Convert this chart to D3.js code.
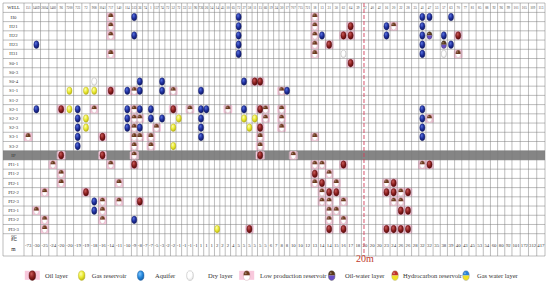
<!DOCTYPE html>
<html><head><meta charset="utf-8">
<script src="https://cdn.jsdelivr.net/npm/d3@7"></script>
<style>body{margin:0;background:#fff}svg{display:block}</style>
</head><body><svg id="c" width="550" height="288"></svg>
<script>
// ---------------- DATA ----------------
const rowLabels = ["H0","H21","H22","H23","H31","S0-1","S0-3","S0-4","S1-1","S1-2","S2-1","S2-2","S2-3","S3-1","S3-2","IP","PI1-1","PI1-2","PI2-1","PI2-2","PI2-3","PI3-1","PI3-2","PI3-3"];
const grayRow = "IP";
const distances = ["-73","-30","-25","-24","-20","-20","-19","-19","-18","-16","-14","-11","-10",
 "-9","-8","-7","-7","-5","-3","-2","-2","-1","-1","-1","-1","1","1","1","2","2","2","4",
 "5","5","5","5","5","5","6","7","8","8",
 "10","10","12","13","14","14","15","16","17","18","20","20","20","23","24","26","26","28","32","32","35","38","39",
 "40","43","45","53","54","60","80","92",
 "101","172","312","417"];
const wells = ["151","146D","2604","1460","96","7200","723","72","908","1041","717","140","114",
 "513","36","74","1","157","74","72","52","72","33","51","96","726","26","54","14","45","10","65",
 "72","27","58","11","15","66","19","24","30","17",
 "707","715","721","18","13","31","50","62","64","39","12","40","42","16","20","22","28","35","41","47","53","57","63",
 "70","77","81","85","88","92","96","99",
 "101","105","109","113"];
const headerCorner = "WELL";
const footerCorner = ["距","m"];
const lineColumn = 52;          // column where the 20 m line is drawn
const lineLabel = "20m";

// markers: [row label, column index]
const oilLayer = [["S1-1",10],["S2-1",4],["S3-1",9],["IP",4],["IP",9],["PI1-1",13],["PI2-2",7],["PI2-3",14],
 ["H23",47],["H22",49],["H22",50],["H21",50],["S0-1",50],["S0-4",35],["S0-4",36],["H22",65],
 ["PI3-3",34],["PI3-3",47],["PI3-3",49],["PI3-3",55],["PI3-3",56],["PI3-3",57],["PI3-3",58],
 ["S2-1",20],["S2-1",36],["S2-3",36],["IP",36],["PI1-1",49],["PI1-1",61],["PI1-2",45],["PI2-1",46],["PI2-1",56],
 ["PI2-2",47],["PI2-2",48],["PI2-2",55],["PI2-2",56],["PI2-2",58],["PI3-1",57],["PI3-1",58]];
const gasReservoir = [["S1-1",5],["S1-1",7],["S1-1",8],["S2-1",5],["S2-2",7],["S2-3",7],["PI3-3",28],
 ["S2-2",21],["S2-2",33],["S2-2",35],["S2-3",20],["S2-3",34],["S3-2",20]];
const aquifer = [["H23",1],["H0",13],["H22",13],["H0",32],["H21",32],["H22",32],["H23",32],["H31",32],
 ["S0-4",14],["S0-4",18],["S0-4",33],["S1-1",12],["S2-1",1],["S2-1",6],["S2-1",12],["S2-2",6],["S2-2",12],
 ["S2-3",6],["S2-3",12],["S3-1",6],["S3-2",6],["PI2-3",8],["PI3-1",8],["PI3-2",13],
 ["H22",46],["H21",55],["H22",55],["H0",60],["H0",61],["H0",64],["H21",60],["H22",60],["H22",63],
 ["H23",60],["H23",64],["H31",60],
 ["S1-1",14],["S1-1",18],["S1-1",25],["S1-1",41],["S2-1",14],["S2-1",16],["S2-1",25],["S2-1",26],["S2-1",33],["S2-1",60],
 ["S2-2",16],["S2-2",18],["S2-2",25],["S2-2",60],["S2-3",14],["S2-3",25],["S2-3",60],["S3-1",25],["S3-1",60]];
const dryLayer = [["S0-4",8],["H31",49],["H31",63]];
const lowProduction = [["H0",10],["H21",10],["H22",10],["H31",10],
 ["H0",45],["H21",45],["H22",45],["H23",45],["H31",45],
 ["S1-1",13],["S2-1",13],["S2-2",13],["S2-3",13],["S3-1",13],["S3-2",13],["IP",13],
 ["S2-1",8],["S3-1",0],["PI1-1",3],["PI1-1",10],["PI1-2",4],["PI2-1",4],["PI2-1",11],["PI2-2",2],
 ["PI2-3",9],["PI2-3",11],["PI3-1",1],["PI3-1",9],["PI3-2",2],["PI3-2",9],["PI3-3",2],
 ["H21",56],["H31",65],
 ["S1-1",20],["S1-1",40],["S2-1",23],["S2-1",30],["S2-1",37],["S2-1",40],["S2-2",14],["S2-2",37],["S2-2",40],["S2-2",61],
 ["S2-3",17],["S2-3",40],["S3-1",14],["S3-1",16],["S3-1",36],["S3-1",45],["S3-2",16],["S3-2",36],["IP",42],
 ["PI1-1",45],["PI1-1",46],["PI1-1",60],["PI1-2",47],["PI2-1",45],["PI2-1",48],["PI2-1",55],["PI2-2",46],["PI2-2",57],
 ["PI2-3",46],["PI2-3",47],["PI2-3",49],["PI2-3",56],["PI2-3",57],["PI3-1",47],["PI3-1",48],["PI3-2",47],["PI3-2",49]];
const oilWater = [["H22",61],["H23",63]];
const hydrocarbon = [];
const gasWater = [];

const legendItems = [
 {type:"oil", label:"Oil layer"},
 {type:"gas", label:"Gas reservoir"},
 {type:"aquiferL", label:"Aquifer"},
 {type:"dry", label:"Dry layer"},
 {type:"low", label:"Low production reservoir"},
 {type:"oilWater", label:"Oil-water layer"},
 {type:"hydro", label:"Hydrocarbon reservoir"},
 {type:"gasWater", label:"Gas water layer"}];

// ---------------- LAYOUT ----------------
const svg = d3.select("#c");
const defs = svg.append("defs");
const tableLeft = 3, tableRight = 545, labelRight = 24;
const tableTop = 3, headerBottom = 12.4, dataBottom = 233.7, tableBottom = 256;

function colWeight(s){ if (s.length >= 3) return 8.3; if (s[0] === "-") return 5.6; if (s.length === 2) return 7.2; return 5.4; }
const cum = [0]; distances.forEach(d => cum.push(cum[cum.length-1] + colWeight(d)));
const x = d3.scaleLinear().domain([0, cum[cum.length-1]]).range([labelRight, tableRight]);
const colCenter = i => (x(cum[i]) + x(cum[i+1])) / 2;
const y = d3.scaleBand().domain(rowLabels).range([headerBottom, dataBottom]).padding(0);
const rowCenter = r => y(r) + y.bandwidth()/2;

function grad(id, c0, c1, c2){
  const g = defs.append("radialGradient").attr("id", id).attr("cx","38%").attr("cy","32%").attr("r","70%");
  g.append("stop").attr("offset","0%").attr("stop-color", c0);
  g.append("stop").attr("offset","55%").attr("stop-color", c1);
  g.append("stop").attr("offset","100%").attr("stop-color", c2);
}
grad("gOil", "#c85a5a", "#8c1f1f", "#5a0c0c");
grad("gGas", "#ffffb0", "#eaea30", "#b9b316");
grad("gAq", "#5872e0", "#1f2f9c", "#101a62");
grad("gAqL", "#7fc4ff", "#2488dc", "#155ea8");
grad("gDry", "#ffffff", "#ffffff", "#e6e6e6");

const pink = "#f8c8dc";
const split = {
  low: ["#6b3a1c", "#ffffff", "#c8a0a8"],
  oilWater: ["#5a3a1a", "#6a4fc8", "#444"],
  hydro: ["#c0302a", "#f0e024", "#aa7"],
  gasWater: ["#2a80d8", "#f0e024", "#889"]
};
const solid = {
  oil: ["url(#gOil)", "#4a0a0a"],
  gas: ["url(#gGas)", "#b0a820"],
  aquifer: ["url(#gAq)", "#0e1660"],
  aquiferL: ["url(#gAqL)", "#125090"],
  dry: ["url(#gDry)", "#9a9a9a"]
};

function drawMarker(g, type, cx, cy, rx, ry){
  if (solid[type]) {
    g.append("ellipse").attr("cx", cx).attr("cy", cy).attr("rx", rx).attr("ry", ry)
      .attr("fill", solid[type][0]).attr("stroke", solid[type][1]).attr("stroke-width", 0.4);
  } else {
    const s = split[type];
    g.append("path").attr("d", `M${cx-rx},${cy} A${rx},${ry} 0 0 1 ${cx+rx},${cy} Z`).attr("fill", s[0]);
    g.append("path").attr("d", `M${cx-rx},${cy} A${rx},${ry} 0 0 0 ${cx+rx},${cy} Z`).attr("fill", s[1]);
    g.append("ellipse").attr("cx", cx).attr("cy", cy).attr("rx", rx).attr("ry", ry)
      .attr("fill", "none").attr("stroke", s[2]).attr("stroke-width", 0.4);
    g.append("ellipse").attr("cx", cx - rx*0.3).attr("cy", cy - ry*0.5).attr("rx", rx*0.3).attr("ry", ry*0.2)
      .attr("fill", "#fff").attr("opacity", 0.35);
  }
}

// ---------------- TABLE ----------------
svg.append("rect").attr("x", tableLeft).attr("y", y(grayRow)).attr("width", tableRight - tableLeft)
  .attr("height", y.bandwidth()).attr("fill", "#858585");

const bgLayer = svg.append("g");
const sets = [["low", lowProduction],["oil", oilLayer],["gas", gasReservoir],["aquifer", aquifer],["dry", dryLayer],["oilWater", oilWater],["hydro", hydrocarbon],["gasWater", gasWater]];
sets.forEach(([t, arr]) => arr.forEach(([r, c]) => {
  if (t === "oil" || t === "low") bgLayer.append("rect").attr("x", colCenter(c) - 4.4).attr("y", rowCenter(r) - 4.4)
    .attr("width", 8.8).attr("height", 8.8).attr("rx", 1.5).attr("fill", pink);
}));

const gl = svg.append("g").attr("stroke", "#7a7a7a").attr("stroke-width", 0.5);
const hLines = [tableTop, headerBottom, ...rowLabels.map(r => y(r) + y.bandwidth()), tableBottom];
hLines.forEach(v => gl.append("line").attr("x1", tableLeft).attr("x2", tableRight).attr("y1", v).attr("y2", v));
cum.forEach(c => gl.append("line").attr("x1", x(c)).attr("x2", x(c)).attr("y1", tableTop).attr("y2", tableBottom));
gl.append("line").attr("x1", tableLeft).attr("x2", tableLeft).attr("y1", tableTop).attr("y2", tableBottom);

const markerLayer = svg.append("g");
sets.forEach(([t, arr]) => arr.forEach(([r, c]) => drawMarker(markerLayer, t, colCenter(c), rowCenter(r), 2.6, 3.8)));

const txt = svg.append("g").attr("font-family", "Liberation Serif, Times New Roman, serif").attr("fill", "#222");
txt.append("text").attr("x", (tableLeft+labelRight)/2).attr("y", (tableTop+headerBottom)/2 + 1.5)
  .attr("text-anchor", "middle").attr("font-size", 4.5).text(headerCorner);
rowLabels.forEach(r => txt.append("text").attr("x", (tableLeft+labelRight)/2).attr("y", rowCenter(r) + 1.6)
  .attr("text-anchor", "middle").attr("font-size", 4.8).attr("fill", "#333").text(r));
wells.forEach((w, i) => txt.append("text").attr("x", colCenter(i)).attr("y", (tableTop+headerBottom)/2 + 1.2)
  .attr("text-anchor", "middle").attr("font-size", 3.3).attr("fill", "#444").text(w));
distances.forEach((d, i) => txt.append("text").attr("x", colCenter(i)).attr("y", (dataBottom+tableBottom)/2 + 1.7)
  .attr("text-anchor", "middle").attr("font-size", 4.8).attr("fill", "#333").text(d));
txt.append("text").attr("x", (tableLeft+labelRight)/2).attr("y", 240).attr("text-anchor", "middle").attr("font-size", 5.5).text(footerCorner[0]);
txt.append("text").attr("x", (tableLeft+labelRight)/2).attr("y", 251).attr("text-anchor", "middle").attr("font-size", 5.5).text(footerCorner[1]);

svg.append("line").attr("x1", colCenter(lineColumn) - 1).attr("x2", colCenter(lineColumn) - 1)
  .attr("y1", tableTop).attr("y2", tableBottom).attr("stroke", "#d0405a").attr("stroke-width", 0.9).attr("stroke-dasharray", "4,2");
svg.append("text").attr("x", colCenter(lineColumn)).attr("y", 262).attr("text-anchor", "middle")
  .attr("font-family", "Liberation Serif, Times New Roman, serif").attr("font-size", 10).attr("fill", "#c0392b").text(lineLabel);

// ---------------- LEGEND ----------------
const legendX = [32.3, 81.7, 140.7, 190, 246.7, 331.7, 395, 466];
const legendTextX = [45, 91.7, 155, 208, 260, 345, 403, 477];
const leg = svg.append("g");
legendItems.forEach((it, i) => {
  const cx = legendX[i], cy = 275.6;
  if (it.type === "oil" || it.type === "low") leg.append("rect").attr("x", cx - 7.5).attr("y", cy - 4.8).attr("width", 15).attr("height", 9).attr("fill", pink);
  drawMarker(leg, it.type, cx, cy, 3.3, 4.8);
  leg.append("text").attr("x", legendTextX[i]).attr("y", cy + 2).attr("font-family", "Liberation Serif, Times New Roman, serif")
    .attr("font-size", 6.5).attr("fill", "#333").text(it.label);
});
</script>
</body></html>
